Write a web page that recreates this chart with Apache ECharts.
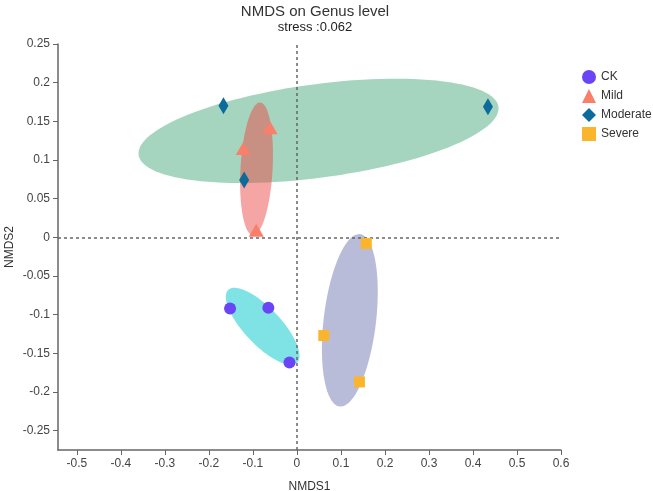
<!DOCTYPE html>
<html><head><meta charset="utf-8">
<script src="https://cdn.jsdelivr.net/npm/echarts@6/dist/echarts.min.js"></script>
<style>html,body{margin:0;padding:0;background:#fff}#c{width:653px;height:491px}</style>
</head><body><div id="c"></div>
<script>
const groups = ['CK', 'Mild', 'Moderate', 'Severe'];
const ckPoints = [[-0.152, -0.092], [-0.065, -0.091], [-0.017, -0.162]];
const mildPoints = [[-0.122, 0.115], [-0.061, 0.1416], [-0.0925, 0.009]];
const moderatePoints = [[-0.167, 0.170], [-0.120, 0.074], [0.434, 0.169]];
const severePoints = [[0.1575, -0.008], [0.061, -0.127], [0.142, -0.187]];
const xTicks = [-0.5, -0.4, -0.3, -0.2, -0.1, 0, 0.1, 0.2, 0.3, 0.4, 0.5, 0.6];
const yTicks = [-0.25, -0.2, -0.15, -0.1, -0.05, 0, 0.05, 0.1, 0.15, 0.2, 0.25];

const pointSets = [ckPoints, mildPoints, moderatePoints, severePoints];
const symbols = ['circle', 'triangle', 'diamond', 'rect'];
const symbolSizes = [12, [15, 13], [10, 17], 11];
const pointColors = ['#6a45f5', '#fa7f6b', '#0d6b9c', '#fbb52d'];
const ellipseColors = ['rgba(0,200,206,0.5)', 'rgba(236,76,72,0.5)', 'rgba(77,171,127,0.5)', 'rgba(113,121,177,0.5)'];
const ellipseOrder = [0, 3, 2, 1];
const ellipseScale = 1.06;

function ellipseRender(pts) {
  return function (params, api) {
    const c = pts.map(p => api.coord(p));
    const m = [(c[0][0] + c[1][0] + c[2][0]) / 3, (c[0][1] + c[1][1] + c[2][1]) / 3];
    const a = [c[0][0] - m[0], c[0][1] - m[1]];
    const v = [(c[1][0] - c[2][0]) / Math.sqrt(3), (c[1][1] - c[2][1]) / Math.sqrt(3)];
    const poly = [];
    for (let i = 0; i < 120; i++) {
      const t = i / 120 * Math.PI * 2;
      poly.push([m[0] + ellipseScale * (a[0] * Math.cos(t) + v[0] * Math.sin(t)),
                 m[1] + ellipseScale * (a[1] * Math.cos(t) + v[1] * Math.sin(t))]);
    }
    return { type: 'polygon', shape: { points: poly }, style: { fill: api.visual('color') } };
  };
}

const series = [];
ellipseOrder.forEach(i => {
  series.push({
    type: 'custom', name: groups[i] + ' ellipse', silent: true, z: 1,
    itemStyle: { color: ellipseColors[i] },
    renderItem: ellipseRender(pointSets[i]),
    data: [[pointSets[i][0][0], pointSets[i][0][1]]],
    clip: true
  });
});
series.push({
  type: 'scatter', name: '_ref', data: [], z: 2,
  markLine: {
    silent: true, symbol: 'none', label: { show: false },
    lineStyle: { color: '#666', type: [3, 3], width: 1.5 },
    data: [{ xAxis: 0 }, { yAxis: 0 }]
  }
});
groups.forEach((g, i) => {
  series.push({
    type: 'scatter', name: g, z: 5, data: pointSets[i],
    symbol: symbols[i], symbolSize: symbolSizes[i],
    itemStyle: { color: pointColors[i], opacity: 1 }
  });
});

const fmt = v => String(+v.toFixed(3));
const chart = echarts.init(document.getElementById('c'), null, { renderer: 'canvas' });
chart.setOption({
  animation: false,
  textStyle: { fontFamily: 'Liberation Sans, Arial, sans-serif' },
  title: [
    { text: 'NMDS on Genus level', left: 310, top: -1, textAlign: 'center',
      textStyle: { fontSize: 15, fontWeight: 'normal', color: '#333' } },
    { text: 'stress :0.062', left: 310, top: 16, textAlign: 'center',
      textStyle: { fontSize: 13, fontWeight: 'normal', color: '#222' } }
  ],
  legend: {
    orient: 'vertical', left: 577, top: 65, itemGap: 5,
    itemWidth: 14, itemHeight: 14,
    textStyle: { fontSize: 12, color: '#333' },
    data: [
      { name: 'CK', icon: 'circle' },
      { name: 'Mild', icon: 'triangle' },
      { name: 'Moderate', icon: 'diamond' },
      { name: 'Severe', icon: 'rect' }
    ]
  },
  grid: { left: 58, right: 92, top: 44, bottom: 41, outerBoundsMode: 'none', containLabel: false },
  xAxis: {
    type: 'value', min: -0.543, max: 0.6,
    name: 'NMDS1', nameLocation: 'middle', nameGap: 31,
    nameTextStyle: { fontSize: 12, color: '#333' },
    splitLine: { show: false },
    axisLine: { onZero: false, lineStyle: { color: '#666', width: 1.5 } },
    axisTick: { customValues: xTicks, length: 5, lineStyle: { color: '#666' } },
    axisLabel: { customValues: xTicks, formatter: fmt, color: '#444', fontSize: 12, margin: 8 }
  },
  yAxis: {
    type: 'value', min: -0.275, max: 0.25,
    name: 'NMDS2', nameLocation: 'middle', nameGap: 42, nameRotate: 90, nameMoveOverlap: false,
    nameTextStyle: { fontSize: 12, color: '#333' },
    splitLine: { show: false },
    axisLine: { onZero: false, lineStyle: { color: '#666', width: 1.5 } },
    axisTick: { customValues: yTicks, length: 5, lineStyle: { color: '#666' } },
    axisLabel: { customValues: yTicks, formatter: fmt, color: '#444', fontSize: 12, margin: 8 }
  },
  series: series
});
</script>
</body></html>
